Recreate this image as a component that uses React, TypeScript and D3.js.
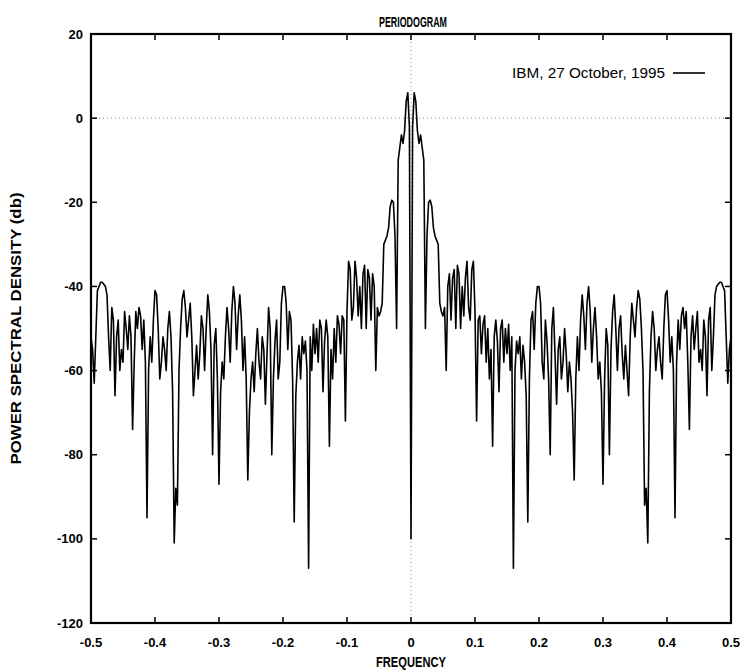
import React from "react";
import * as d3 from "d3";

// Periodogram is symmetric about f = 0; values read for f = 0 .. 0.5 (step 0.0025)
const freqStep = 0.0025;
const dbHalf: number[] = [
  -100, -2, 6, 4, -3, -6, -4, -7, -10, -50,
  -28, -20, -19.5, -21, -26, -28, -29, -30, -44, -46,
  -47, -45, -60, -40, -37, -48, -38, -36, -50, -35,
  -37, -50, -40, -47, -38, -34, -45, -48, -36, -34,
  -46, -72, -48, -47, -56, -49, -47, -58, -50, -62,
  -55, -78, -52, -48, -53, -65, -50, -48, -58, -50,
  -56, -49, -60, -52, -107, -60, -53, -56, -52, -62,
  -54, -58, -66, -96, -62, -48, -46, -55, -44, -40,
  -40, -44, -58, -62, -48, -53, -62, -80, -50, -45,
  -56, -68, -55, -52, -62, -58, -50, -56, -65, -58,
  -62, -70, -86, -62, -52, -60, -48, -42, -47, -55,
  -44, -40, -46, -58, -50, -45, -52, -62, -58, -65,
  -87, -62, -50, -54, -80, -55, -46, -42, -50, -60,
  -50, -47, -56, -62, -54, -60, -66, -52, -44, -48,
  -52, -45, -41, -43, -50, -60, -92, -88, -101, -65,
  -52, -46, -50, -60, -55, -52, -58, -62, -50, -42,
  -41, -48, -58, -52, -60, -95, -58, -48, -55, -47,
  -45, -50, -46, -58, -74, -52, -47, -55, -50, -46,
  -58, -55, -60, -48, -52, -66, -48, -45, -60, -52,
  -42, -40, -39.5, -39, -39, -40, -41, -52, -63, -55,
  -52,
];

const xTicks = [-0.5, -0.4, -0.3, -0.2, -0.1, 0, 0.1, 0.2, 0.3, 0.4, 0.5];
const yTicks = [20, 0, -20, -40, -60, -80, -100, -120];
const titleText = "PERIODOGRAM";
const xLabel = "FREQUENCY";
const yLabel = "POWER SPECTRAL DENSITY (db)";
const legendText = "IBM, 27 October, 1995";

const W = 743;
const H = 670;
const M = { left: 91, right: 731, top: 34, bottom: 623 };
const FONT = "'Liberation Sans', Arial, sans-serif";

export default function App() {
  const x = d3.scaleLinear().domain([-0.5, 0.5]).range([M.left, M.right]);
  const y = d3.scaleLinear().domain([-120, 20]).range([M.bottom, M.top]);

  const half = dbHalf.map((v, i) => [i * freqStep, v] as [number, number]);
  const full: [number, number][] = [
    ...half.slice(1).reverse().map(([f, v]) => [-f, v] as [number, number]),
    ...half,
  ];
  const line = d3
    .line<[number, number]>()
    .x((d) => x(d[0]))
    .y((d) => y(d[1]));

  const tickLen = 6;
  const labelStyle: React.CSSProperties = {
    fontFamily: FONT,
    fontWeight: 700,
    fontSize: 13,
  };
  const fmtX = (t: number) => (t === 0 ? "0" : t.toFixed(1));

  return (
    <svg width={W} height={H} style={{ position: "absolute", left: 0, top: 0, background: "#fff" }}>
      <rect x={0} y={0} width={W} height={H} fill="#fff" />
      {/* zero axes */}
      <line x1={M.left} x2={M.right} y1={y(0)} y2={y(0)} stroke="#888" strokeWidth={1} strokeDasharray="1,3" />
      <line x1={x(0)} x2={x(0)} y1={M.top} y2={M.bottom} stroke="#888" strokeWidth={1} strokeDasharray="1,3" />

      <path d={line(full) || ""} fill="none" stroke="#000" strokeWidth={1.6} strokeLinejoin="round" />

      {/* frame */}
      <rect x={M.left} y={M.top} width={M.right - M.left} height={M.bottom - M.top} fill="none" stroke="#000" strokeWidth={2.2} />

      {xTicks.map((t) => (
        <g key={"x" + t}>
          <line x1={x(t)} x2={x(t)} y1={M.bottom} y2={M.bottom - tickLen} stroke="#000" strokeWidth={1.5} />
          <line x1={x(t)} x2={x(t)} y1={M.top} y2={M.top + tickLen} stroke="#000" strokeWidth={1.5} />
          <text x={x(t)} y={M.bottom + 24} textAnchor="middle" style={labelStyle}>
            {fmtX(t)}
          </text>
        </g>
      ))}
      {yTicks.map((t) => (
        <g key={"y" + t}>
          <line x1={M.left} x2={M.left + tickLen} y1={y(t)} y2={y(t)} stroke="#000" strokeWidth={1.5} />
          <line x1={M.right} x2={M.right - tickLen} y1={y(t)} y2={y(t)} stroke="#000" strokeWidth={1.5} />
          <text x={M.left - 8} y={y(t) + 4.5} textAnchor="end" style={labelStyle}>
            {String(t)}
          </text>
        </g>
      ))}

      <text x={x(0) + 2} y={27} textAnchor="middle" style={{ ...labelStyle, fontSize: 14 }} textLength={68} lengthAdjust="spacingAndGlyphs">
        {titleText}
      </text>
      <text x={x(0)} y={667} textAnchor="middle" style={{ ...labelStyle, fontSize: 15 }} textLength={70} lengthAdjust="spacingAndGlyphs">
        {xLabel}
      </text>
      <text
        transform={`translate(21, ${(M.top + M.bottom) / 2}) rotate(-90)`}
        textAnchor="middle"
        style={{ ...labelStyle, fontSize: 14 }}
        textLength={272}
        lengthAdjust="spacingAndGlyphs"
      >
        {yLabel}
      </text>

      {/* legend */}
      <text x={512} y={78} textAnchor="start" style={{ ...labelStyle, fontWeight: 400, fontSize: 14 }} textLength={153} lengthAdjust="spacingAndGlyphs">
        {legendText}
      </text>
      <line x1={673} x2={705} y1={73} y2={73} stroke="#000" strokeWidth={1.6} />
    </svg>
  );
}
